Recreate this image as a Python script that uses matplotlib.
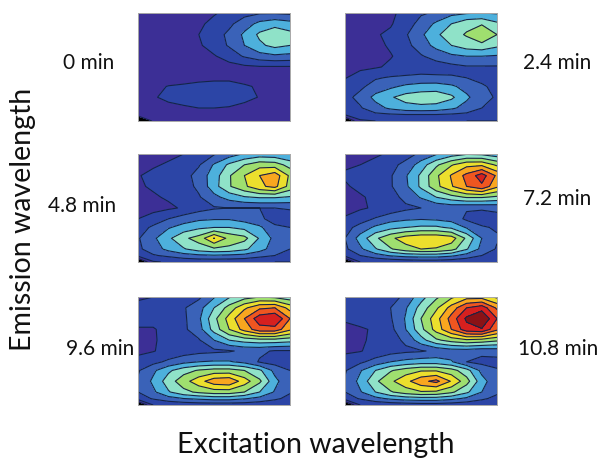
import numpy as np
import matplotlib
matplotlib.use("Agg")
import matplotlib.pyplot as plt

plt.rcParams['font.family'] = ['Lato', 'DejaVu Sans']

# intensity grids, top row first
xs = [0, .1, .2, .3, .4, .5, .6, .7, .8, .9, 1]
ys = [0, .1, .2, .3, .4, .5, .6, .68, .78, .88, .94, 1]

grid0 = [
    [.3, .3, .3, .3, .5, .9, 1.3, 1.7, 1.9, 1.9, 1.8],
    [.3, .3, .3, .4, .8, 1.3, 1.8, 2.5, 3.3, 3.7, 3.4],
    [.3, .3, .3, .4, 1.0, 1.6, 2.2, 3.2, 4.2, 4.6, 4.3],
    [.3, .3, .3, .4, .85, 1.5, 2.1, 3.0, 3.8, 4.3, 4.0],
    [.3, .3, .3, .3, .5, .9, 1.5, 2.1, 2.6, 2.8, 2.7],
    [.3, .3, .3, .3, .4, .5, .6, .8, .9, .9, .9],
    [.3, .3, .4, .6, .8, .85, .85, .7, .5, .4, .3],
    [.5, .7, 1.05, 1.15, 1.2, 1.25, 1.25, 1.1, .9, .5, .3],
    [.5, .9, 1.25, 1.3, 1.35, 1.4, 1.35, 1.3, .95, .5, .3],
    [.3, .4, .7, .9, 1.0, 1.0, .95, .7, .4, .3, .3],
    [.3, .3, .4, .5, .5, .5, .5, .4, .3, .3, .3],
    [-1.0, .1, .3, .3, .3, .3, .3, .3, .3, .3, .3],
]
grid1 = [
    [.5, .5, .5, .7, 1.5, 1.9, 2.1, 2.7, 2.9, 3.0, 2.9],
    [.5, .5, .7, .9, 1.6, 2.3, 3.2, 4.0, 4.7, 4.9, 4.2],
    [.6, .7, .9, 1.2, 1.9, 2.8, 3.8, 4.6, 5.1, 5.9, 5.0],
    [.6, .6, .8, 1.1, 1.7, 2.5, 3.3, 4.0, 4.5, 4.7, 4.2],
    [.6, .7, .8, .95, 1.3, 1.9, 2.4, 2.8, 3.0, 3.0, 2.9],
    [.7, .8, .9, 1.15, 1.3, 1.4, 1.5, 1.7, 1.9, 1.9, 1.9],
    [.95, 1.4, 1.9, 2.1, 2.2, 2.3, 2.2, 2.1, 2.0, 1.8, 1.6],
    [1.4, 1.8, 2.4, 2.8, 3.2, 3.4, 3.5, 3.2, 2.6, 2.1, 1.8],
    [1.7, 2.3, 3.3, 3.9, 4.4, 4.6, 4.6, 4.2, 3.2, 2.3, 1.9],
    [1.4, 1.9, 2.6, 3.2, 3.6, 3.7, 3.6, 3.2, 2.6, 2.0, 1.7],
    [1.1, 1.4, 1.8, 1.9, 2.0, 2.0, 2.0, 1.9, 1.8, 1.5, 1.3],
    [-1.5, .9, 1.0, 1.1, 1.2, 1.2, 1.2, 1.1, 1.0, 1.0, 1.0],
]
grid2 = [
    [.6, .7, .8, 1.0, 1.4, 1.9, 2.5, 3.1, 3.4, 3.3, 3.0],
    [.8, .9, 1.1, 1.4, 1.9, 3.1, 4.2, 5.0, 5.6, 5.5, 4.6],
    [.95, 1.2, 1.3, 1.6, 2.4, 3.5, 4.9, 6.0, 7.0, 7.6, 5.8],
    [.9, 1.1, 1.3, 1.6, 2.2, 3.6, 4.9, 5.8, 6.8, 7.3, 5.6],
    [.7, .9, 1.1, 1.3, 1.9, 2.7, 3.4, 3.9, 4.1, 4.1, 3.9],
    [.6, .7, .85, 1.1, 1.6, 1.9, 2.0, 2.0, 2.0, 2.0, 2.1],
    [1.0, 1.4, 2.0, 2.5, 2.8, 2.9, 2.9, 2.6, 2.2, 1.6, 1.5],
    [1.5, 2.2, 2.9, 3.4, 3.8, 4.0, 4.0, 3.7, 3.2, 2.2, 2.0],
    [1.9, 2.8, 3.8, 4.8, 5.4, 7.05, 5.7, 5.3, 3.9, 2.7, 2.1],
    [1.8, 2.5, 3.3, 3.9, 4.5, 4.8, 4.7, 4.2, 3.4, 2.5, 2.0],
    [1.3, 1.9, 2.2, 2.6, 2.8, 2.9, 2.8, 2.7, 2.3, 2.0, 1.5],
    [-1.5, .9, 1.1, 1.2, 1.3, 1.3, 1.3, 1.2, 1.1, 1.0, 1.0],
]
grid3 = [
    [.7, .8, .9, 1.1, 1.6, 2.2, 2.9, 3.5, 3.9, 3.8, 3.4],
    [.9, 1.0, 1.2, 1.7, 2.3, 3.5, 4.8, 5.9, 6.7, 6.8, 5.8],
    [1.1, 1.4, 1.6, 1.9, 2.9, 4.2, 5.8, 7.1, 8.3, 9.5, 7.8],
    [.9, 1.2, 1.4, 1.9, 2.8, 4.2, 5.7, 6.9, 8.0, 8.8, 7.2],
    [.7, .9, 1.2, 1.6, 2.3, 3.1, 4.0, 4.6, 5.1, 5.1, 4.8],
    [.7, .9, 1.1, 1.4, 1.8, 2.0, 2.2, 2.3, 2.1, 2.1, 2.2],
    [1.1, 1.5, 2.1, 2.6, 2.8, 2.9, 2.8, 2.6, 1.8, 1.6, 1.7],
    [1.6, 2.4, 3.2, 3.7, 4.0, 4.2, 4.2, 3.8, 2.9, 2.1, 1.9],
    [2.0, 3.4, 4.8, 5.8, 6.5, 6.8, 6.8, 6.5, 4.8, 3.0, 2.1],
    [1.8, 2.8, 3.9, 4.9, 5.6, 6.0, 5.9, 5.4, 4.1, 2.7, 1.9],
    [1.3, 2.0, 2.6, 3.1, 3.4, 3.5, 3.5, 3.2, 2.6, 2.0, 1.5],
    [-1.5, 1.0, 1.1, 1.2, 1.3, 1.4, 1.4, 1.3, 1.2, 1.1, 1.0],
]
grid4 = [
    [.9, 1.0, 1.1, 1.3, 1.8, 2.9, 3.9, 4.6, 5.0, 4.8, 4.4],
    [1.2, 1.3, 1.6, 1.9, 2.6, 4.0, 5.4, 6.8, 7.8, 8.0, 6.6],
    [1.2, 1.4, 1.6, 1.8, 2.8, 4.7, 6.4, 8.0, 9.6, 10.0, 8.0],
    [.95, .9, 1.4, 1.8, 2.6, 4.4, 6.0, 7.4, 8.6, 8.6, 7.2],
    [.7, .9, 1.3, 1.6, 1.9, 3.0, 4.0, 4.4, 4.6, 4.6, 4.4],
    [.8, .95, 1.3, 1.5, 1.7, 1.8, 1.9, 2.2, 2.2, 1.9, 1.9],
    [1.3, 1.7, 2.2, 2.7, 3.0, 3.1, 3.1, 2.7, 1.9, 1.6, 1.7],
    [1.9, 2.8, 3.8, 4.6, 5.1, 5.4, 5.4, 5.0, 4.2, 2.7, 2.0],
    [2.1, 3.2, 4.5, 5.6, 6.6, 7.6, 7.8, 6.5, 5.2, 3.3, 2.2],
    [2.0, 2.8, 3.9, 4.7, 5.2, 5.5, 5.5, 5.0, 4.0, 2.9, 2.1],
    [1.5, 2.1, 2.6, 3.0, 3.2, 3.4, 3.4, 3.1, 2.7, 2.2, 1.7],
    [-1.5, 1.0, 1.2, 1.3, 1.4, 1.4, 1.4, 1.4, 1.3, 1.2, 1.1],
]
grid5 = [
    [1.1, 1.2, 1.3, 1.5, 2.3, 3.6, 4.8, 5.8, 6.6, 6.6, 5.8],
    [1.3, 1.4, 1.5, 2.0, 2.9, 4.4, 5.8, 7.4, 9.0, 9.6, 7.8],
    [1.1, 1.3, 1.5, 1.9, 3.1, 5.0, 6.6, 8.4, 10.2, 11.0, 9.0],
    [.8, .9, 1.1, 1.7, 3.0, 4.7, 6.4, 8.0, 9.6, 9.9, 8.2],
    [.7, .8, 1.3, 1.6, 2.2, 3.6, 4.8, 5.4, 5.8, 5.6, 5.2],
    [.85, .95, 1.3, 1.6, 1.8, 1.9, 2.2, 2.5, 2.5, 2.3, 2.4],
    [1.4, 1.8, 2.4, 3.0, 3.3, 3.5, 3.5, 3.1, 2.0, 1.7, 1.7],
    [1.9, 2.9, 4.0, 4.9, 5.5, 5.9, 5.9, 5.4, 4.4, 2.7, 2.1],
    [2.1, 3.3, 4.8, 5.8, 6.7, 7.7, 8.3, 6.9, 5.4, 3.4, 2.3],
    [2.0, 2.9, 4.0, 4.9, 5.5, 5.9, 5.8, 5.2, 4.2, 3.0, 2.2],
    [1.5, 2.1, 2.7, 3.2, 3.5, 3.6, 3.6, 3.3, 2.8, 2.2, 1.7],
    [-1.5, 1.0, 1.2, 1.3, 1.4, 1.5, 1.5, 1.4, 1.3, 1.2, 1.1],
]

labels = ["0 min", "2.4 min", "4.8 min", "7.2 min", "9.6 min", "10.8 min"]
grids = [grid0, grid1, grid2, grid3, grid4, grid5]

colors = ['#000000', '#3c2f96', '#2c45a6', '#3a62b8', '#4db0dc', '#8fe2c8', '#9fdf6f',
          '#ecdf2d', '#f9a61f', '#ef5620', '#d6201f', '#8a1216']
levels = [-5, 0, 1, 2, 3, 4, 5, 6, 7, 8, 9, 10, 20]

W, H = 599, 460
fig = plt.figure(figsize=(W / 100, H / 100), dpi=100)

lefts = [138, 345]
tops = [14, 155, 298]
pw, ph = 152, 108

for i in range(6):
    left = lefts[i % 2]
    top = tops[i // 2]
    ax = fig.add_axes([left / W, 1 - (top + ph) / H, pw / W, ph / H])
    z = np.array(grids[i])
    ax.contourf(xs, ys, z, levels=levels, colors=colors)
    ax.contour(xs, ys, z, levels=levels[1:-1], colors='#152448', linewidths=0.8)
    ax.set_ylim(1, 0)
    ax.set_xticks([])
    ax.set_yticks([])
    for s in ax.spines.values():
        s.set_color('#a8a8a8')
        s.set_linewidth(0.7)

fs = 15
label_pos = [(89, 63), (557, 63), (82, 206), (557, 199), (100, 349), (558, 349)]
for lab, (x, y) in zip(labels, label_pos):
    fig.text(x / W, 1 - y / H, lab, fontsize=fs, ha='center', va='center', color='#111111')

fig.text(316 / W, 1 - 445 / H, "Excitation wavelength", fontsize=20.5, ha='center', va='center', color='#111111')
fig.text(23 / W, 1 - 219 / H, "Emission wavelength", fontsize=20.5, rotation=90, ha='center', va='center', color='#111111')

fig.savefig("out.png", dpi=100)
